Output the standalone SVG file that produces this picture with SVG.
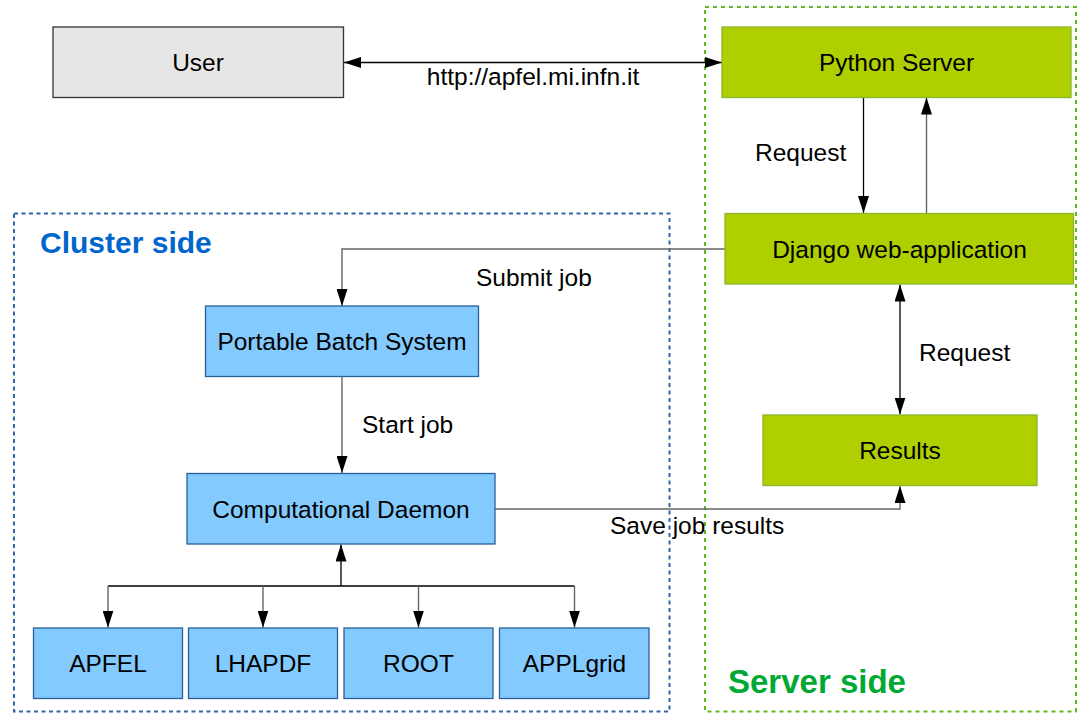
<svg xmlns="http://www.w3.org/2000/svg" width="1078" height="713" viewBox="0 0 1078 713">
<defs>
<marker id="ah" markerUnits="userSpaceOnUse" markerWidth="17" markerHeight="11" viewBox="0 0 17 11" refX="17" refY="5.5" orient="auto-start-reverse">
<path d="M0,0 L17,5.5 L0,11 Z" fill="#000"/>
</marker>
</defs>
<style>
text{font-family:"Liberation Sans",Arial,sans-serif;font-size:24.5px;fill:#000}
.lbl{text-anchor:middle}
.user{fill:#e6e6e6;stroke:#333;stroke-width:1.3}
.green{fill:#afcf00;stroke:#8db52b;stroke-width:1.3}
.blue{fill:#83caff;stroke:#2a6099;stroke-width:1.3}
.cl{fill:none;stroke:#3465a4;stroke-width:2;stroke-dasharray:4 3.5}
.sv{fill:none;stroke:#5eb91e;stroke-width:2;stroke-dasharray:4 4}
.ln{fill:none;stroke:#666;stroke-width:1.4}
.lk{fill:none;stroke:#000;stroke-width:1.3}
.title{font-weight:bold}
</style>
<g id="containers">
<rect id="cluster-side" class="cl" x="14" y="213.5" width="655.5" height="498"/>
<rect id="server-side" class="sv" x="705" y="7" width="371" height="704.5"/>
<text class="title" x="40" y="253" style="font-size:30px;fill:#0066cc">Cluster side</text>
<text class="title" x="728" y="693" style="font-size:33px;fill:#00a933">Server side</text>
</g>
<g id="connectors">
<line class="lk" x1="344" y1="62.5" x2="722" y2="62.5" marker-start="url(#ah)" marker-end="url(#ah)"/>
<line class="lk" x1="863.5" y1="97.5" x2="863.5" y2="213" marker-end="url(#ah)"/>
<line class="ln" x1="926.5" y1="213" x2="926.5" y2="97.5" marker-end="url(#ah)"/>
<polyline class="ln" points="725,249 342,249 342,306" marker-end="url(#ah)"/>
<line class="ln" x1="342" y1="377" x2="342" y2="473" marker-end="url(#ah)"/>
<polyline class="ln" points="495,509 900,509 900,486" marker-end="url(#ah)"/>
<line class="lk" x1="900" y1="284.5" x2="900" y2="414.5" marker-start="url(#ah)" marker-end="url(#ah)"/>
<line class="lk" x1="341" y1="586" x2="341" y2="544.5" marker-end="url(#ah)"/>
<line class="lk" x1="108" y1="586" x2="574.5" y2="586"/>
<line class="ln" x1="108" y1="586" x2="108" y2="627.5" marker-end="url(#ah)"/>
<line class="ln" x1="263" y1="586" x2="263" y2="627.5" marker-end="url(#ah)"/>
<line class="ln" x1="418.5" y1="586" x2="418.5" y2="627.5" marker-end="url(#ah)"/>
<line class="ln" x1="574.5" y1="586" x2="574.5" y2="627.5" marker-end="url(#ah)"/>
<text class="lbl" x="533" y="85">http://apfel.mi.infn.it</text>
<text x="755" y="161">Request</text>
<text x="476" y="286">Submit job</text>
<text x="362" y="433">Start job</text>
<text x="919" y="361">Request</text>
<text x="610" y="534">Save job results</text>
</g>
<g id="user"><rect class="user" x="53" y="27" width="290.5" height="70.5"/><text class="lbl" x="198" y="71">User</text></g>
<g id="python-server"><rect class="green" x="722" y="27" width="349" height="70.5"/><text class="lbl" x="896.5" y="71">Python Server</text></g>
<g id="django"><rect class="green" x="725" y="213.5" width="348.5" height="70.5"/><text class="lbl" x="899.5" y="257.5">Django web-application</text></g>
<g id="results"><rect class="green" x="763" y="415" width="274" height="70.5"/><text class="lbl" x="900" y="458.5">Results</text></g>
<g id="pbs"><rect class="blue" x="205.5" y="306" width="273" height="70.5"/><text class="lbl" x="342" y="350">Portable Batch System</text></g>
<g id="daemon"><rect class="blue" x="187" y="473.5" width="308" height="70.5"/><text class="lbl" x="341" y="517.5">Computational Daemon</text></g>
<g id="apfel"><rect class="blue" x="33.5" y="628" width="149" height="70.5"/><text class="lbl" x="108" y="672">APFEL</text></g>
<g id="lhapdf"><rect class="blue" x="188.5" y="628" width="149" height="70.5"/><text class="lbl" x="263" y="672">LHAPDF</text></g>
<g id="root"><rect class="blue" x="344" y="628" width="149" height="70.5"/><text class="lbl" x="418.5" y="672">ROOT</text></g>
<g id="applgrid"><rect class="blue" x="499.5" y="628" width="149.5" height="70.5"/><text class="lbl" x="574.5" y="672">APPLgrid</text></g>
</svg>
